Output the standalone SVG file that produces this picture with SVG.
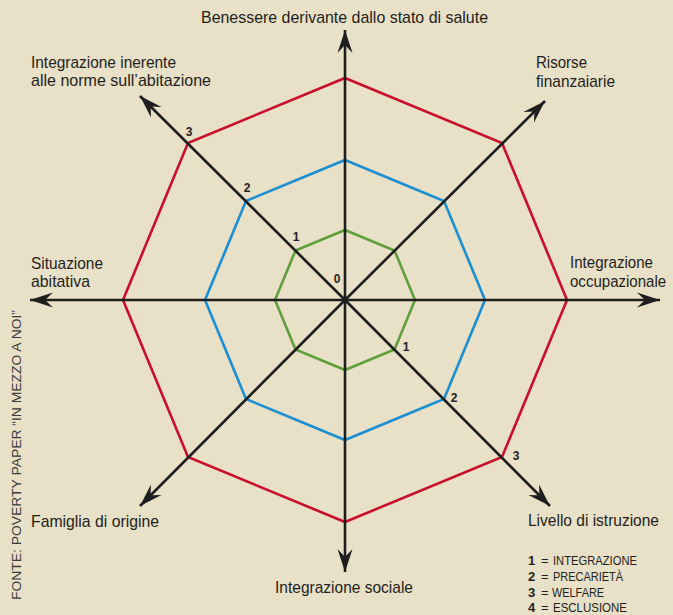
<svg xmlns="http://www.w3.org/2000/svg" width="673" height="615" viewBox="0 0 673 615">
<style>
.lbl{font-family:"Liberation Sans Narrow","Liberation Sans",Arial,sans-serif;font-size:17px;fill:#231f20}
.num{font-family:"Liberation Sans",Arial,sans-serif;font-size:12px;font-weight:bold;fill:#231f20}
.leg{font-family:"Liberation Sans Narrow","Liberation Sans",Arial,sans-serif;font-size:13px;fill:#231f20}
.legn{font-family:"Liberation Sans",Arial,sans-serif;font-size:13px;font-weight:bold;fill:#231f20}
.src{font-family:"Liberation Sans",Arial,sans-serif;font-size:13px;fill:#3a3a3a}
.axis{stroke:#1e1e1e;stroke-width:2.6;fill:none;marker-end:url(#arr)}
.oct{fill:none;stroke-width:2.6;stroke-linejoin:miter}
</style>
<defs>
<marker id="arr" markerUnits="userSpaceOnUse" viewBox="-24 -9 25 18" refX="0" refY="0" markerWidth="25" markerHeight="18" orient="auto">
<path d="M0,0 L-23,-7.5 L-15,0 L-23,7.5 Z" fill="#1e1e1e"/>
</marker>
</defs>
<rect x="0" y="0" width="673" height="615" fill="#e8e0c7"/>
<g id="octagons">
<polygon id="oct-red" class="oct" stroke="#c8102e" points="345,78 502,143 567,300 502,457 345,522 188,457 123,300 188,143"/>
<polygon id="oct-blue" class="oct" stroke="#1b8fd2" points="345,160 444,201 485,300 444,399 345,440 246,399 205,300 246,201"/>
<polygon id="oct-green" class="oct" stroke="#5f9f3c" points="345,230 394.5,250.5 415,300 394.5,349.5 345,370 295.5,349.5 275,300 295.5,250.5"/>
</g>
<g id="connectors">
<line class="axis" x1="345" y1="300" x2="345" y2="30"/>
<line class="axis" x1="345" y1="300" x2="545" y2="101"/>
<line class="axis" x1="345" y1="300" x2="660" y2="300"/>
<line class="axis" x1="345" y1="300" x2="550" y2="506"/>
<line class="axis" x1="345" y1="300" x2="345" y2="572"/>
<line class="axis" x1="345" y1="300" x2="140" y2="506"/>
<line class="axis" x1="345" y1="300" x2="30" y2="300"/>
<line class="axis" x1="345" y1="300" x2="140" y2="96"/>
</g>
<g id="node-top"><text class="lbl" x="201" y="23" textLength="287" lengthAdjust="spacingAndGlyphs">Benessere derivante dallo stato di salute</text></g>
<g id="node-nw"><text class="lbl" x="31" y="68" textLength="145" lengthAdjust="spacingAndGlyphs">Integrazione inerente</text><text class="lbl" x="31" y="86" textLength="180" lengthAdjust="spacingAndGlyphs">alle norme sull’abitazione</text></g>
<g id="node-ne"><text class="lbl" x="536" y="68" textLength="51" lengthAdjust="spacingAndGlyphs">Risorse</text><text class="lbl" x="536" y="87" textLength="79" lengthAdjust="spacingAndGlyphs">finanzaiarie</text></g>
<g id="node-w"><text class="lbl" x="31" y="269" textLength="72" lengthAdjust="spacingAndGlyphs">Situazione</text><text class="lbl" x="31" y="287" textLength="59" lengthAdjust="spacingAndGlyphs">abitativa</text></g>
<g id="node-e"><text class="lbl" x="570" y="268" textLength="83" lengthAdjust="spacingAndGlyphs">Integrazione</text><text class="lbl" transform="translate(570,287) scale(0.885,1)" x="0" y="0">occupazionale</text></g>
<g id="node-se"><text class="lbl" x="528" y="526" textLength="131" lengthAdjust="spacingAndGlyphs">Livello di istruzione</text></g>
<g id="node-sw"><text class="lbl" x="31" y="527" textLength="128" lengthAdjust="spacingAndGlyphs">Famiglia di origine</text></g>
<g id="node-bottom"><text class="lbl" x="275" y="593" textLength="138" lengthAdjust="spacingAndGlyphs">Integrazione sociale</text></g>
<g id="scale-numbers">
<text class="num" x="189" y="136" text-anchor="middle">3</text>
<text class="num" x="247" y="192" text-anchor="middle">2</text>
<text class="num" x="296" y="241" text-anchor="middle">1</text>
<text class="num" x="337" y="283" text-anchor="middle">0</text>
<text class="num" x="406" y="351" text-anchor="middle">1</text>
<text class="num" x="454" y="402" text-anchor="middle">2</text>
<text class="num" x="516" y="460" text-anchor="middle">3</text>
</g>
<g id="legend">
<text class="legn" x="528" y="565">1</text><text class="leg" x="541" y="565">=</text><text class="leg" x="553" y="565" textLength="84" lengthAdjust="spacingAndGlyphs">INTEGRAZIONE</text>
<text class="legn" x="528" y="581">2</text><text class="leg" x="541" y="581">=</text><text class="leg" x="553" y="581" textLength="70" lengthAdjust="spacingAndGlyphs">PRECARIETÀ</text>
<text class="legn" x="528" y="597">3</text><text class="leg" x="541" y="597">=</text><text class="leg" x="552" y="597" textLength="52" lengthAdjust="spacingAndGlyphs">WELFARE</text>
<text class="legn" x="528" y="612">4</text><text class="leg" x="541" y="612">=</text><text class="leg" x="553" y="612" textLength="74" lengthAdjust="spacingAndGlyphs">ESCLUSIONE</text>
</g>
<g id="source"><text class="src" transform="translate(20.5,600) rotate(-90)" x="0" y="0" textLength="290" lengthAdjust="spacingAndGlyphs">FONTE: POVERTY PAPER “IN MEZZO A NOI”</text></g>
</svg>
